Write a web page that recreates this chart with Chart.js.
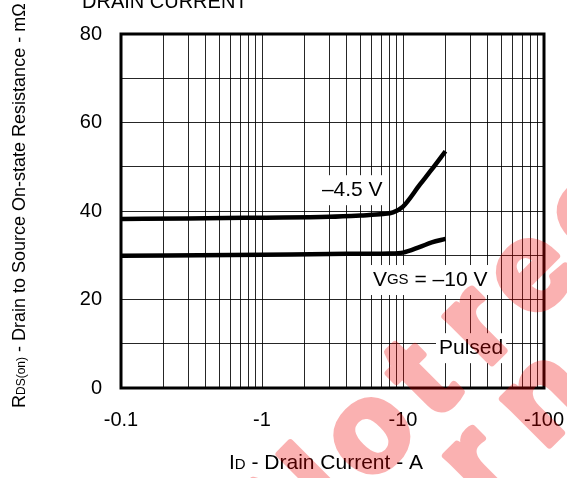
<!DOCTYPE html>
<html>
<head>
<meta charset="utf-8">
<script src="https://cdn.jsdelivr.net/npm/chart.js@4"></script>
<style>
  html, body { margin: 0; padding: 0; background: #fff; }
  #wrap { width: 567px; height: 478px; }
</style>
</head>
<body>
<div id="wrap"><canvas id="rdsChart"></canvas></div>
<script>
// drain current magnitude (A) and on-resistance (mOhm)
var current45 = [0.1, 0.3, 1, 3, 5, 7.2, 8.5, 10, 13.2, 16, 20];
var rds45 = [38.2, 38.3, 38.5, 38.7, 39.0, 39.3, 39.7, 41.0, 46.0, 49.4, 53.5];
var current10 = [0.1, 1, 3, 8, 10, 13.2, 16, 20];
var rds10 = [29.9, 30.1, 30.3, 30.4, 30.6, 31.9, 32.9, 33.7];

var xDecades = [0.1, 1, 10, 100];
var xTickLabels = ["-0.1", "-1", "-10", "-100"];
var yTickValues = [0, 20, 40, 60, 80];
var yTickLabels = ["0", "20", "40", "60", "80"];
var watermarkLines = ["Not recommended", "for new design"];

var FONT = '"Liberation Sans", Arial, sans-serif';

// minor log grid: 1..9 in each decade
var xGrid = [];
for (var d = 0; d < xDecades.length - 1; d++) {
    xGrid.push(xDecades[d]);
    for (var m = 2; m <= 9; m++) xGrid.push(xDecades[d] * m);
}
xGrid.push(xDecades[xDecades.length - 1]);

function pairs(xs, ys) {
    return xs.map(function (x, i) { return { x: x, y: ys[i] }; });
}

// draw text made of normal and small parts on one baseline
function drawParts(ctx, parts, x, y) {
    parts.forEach(function (p) {
        ctx.font = p.size + "px " + FONT;
        ctx.fillText(p.t, x, y);
        x += ctx.measureText(p.t).width;
    });
    return x;
}
function partsWidth(ctx, parts) {
    var w = 0;
    parts.forEach(function (p) {
        ctx.font = p.size + "px " + FONT;
        w += ctx.measureText(p.t).width;
    });
    return w;
}

// watermark letters one by one, wide tracking, tight word gap
function drawSpaced(ctx, text, x, y, track) {
    for (var i = 0; i < text.length; i++) {
        var ch = text[i];
        if (ch === " ") { x += track; continue; }
        ctx.strokeText(ch, x, y);
        ctx.fillText(ch, x, y);
        x += ctx.measureText(ch).width + track;
    }
}

var notes = [
    { x: 2.66, y: 44.7, parts: [{ t: "\u20134.5 V", size: 21 }] },
    { x: 6.12, y: 24.4, parts: [{ t: "V", size: 21 }, { t: "GS", size: 15 }, { t: " = \u201310 V", size: 21 }] },
    { x: 18, y: 9.0, parts: [{ t: "Pulsed", size: 21 }] }
];

var decorPlugin = {
    id: "decor",
    beforeDraw: function (chart) {
        var ctx = chart.ctx;
        ctx.save();
        ctx.fillStyle = "#fff";
        ctx.fillRect(0, 0, chart.width, chart.height);
        ctx.restore();
    },
    afterDatasetsDraw: function (chart) {
        var ctx = chart.ctx, xs = chart.scales.x, ys = chart.scales.y;
        ctx.save();
        ctx.textBaseline = "middle";
        notes.forEach(function (n) {
            var px = xs.getPixelForValue(n.x), py = ys.getPixelForValue(n.y);
            var w = partsWidth(ctx, n.parts);
            ctx.fillStyle = "#fff";
            ctx.fillRect(px - 3, py - 15, w + 6, 30);
            ctx.fillStyle = "#000";
            drawParts(ctx, n.parts, px, py);
        });
        ctx.restore();
    },
    afterDraw: function (chart) {
        var ctx = chart.ctx, a = chart.chartArea;
        ctx.save();
        ctx.strokeStyle = "#000";
        ctx.lineWidth = 3;
        ctx.strokeRect(a.left, a.top, a.right - a.left, a.bottom - a.top);

        ctx.fillStyle = "#000";
        ctx.textBaseline = "alphabetic";
        // x axis title
        drawParts(ctx, [{ t: "I", size: 21 }, { t: "D", size: 15 }, { t: " - Drain Current - A", size: 21 }], 229, 469);
        // cut-off chart title
        drawParts(ctx, [{ t: "DRAIN CURRENT", size: 20 }], 82, 8);
        // y axis title
        ctx.save();
        ctx.translate(25, 408);
        ctx.rotate(-Math.PI / 2);
        drawParts(ctx, [{ t: "R", size: 18 }, { t: "DS(on)", size: 12 }, { t: " - Drain to Source On-state Resistance - m\u03a9", size: 18 }], 0, 0);
        ctx.restore();
        ctx.restore();

        // watermark: drawn solid off screen, then laid over semi-transparent
        var off = document.createElement("canvas");
        off.width = chart.width;
        off.height = chart.height;
        var w = off.getContext("2d");
        w.fillStyle = "rgb(240,0,0)";
        w.strokeStyle = "rgb(240,0,0)";
        w.lineWidth = 7;
        w.lineJoin = "round";
        w.font = "bold 125px " + FONT;
        w.translate(372, 436);
        w.rotate(-Math.PI / 4);
        var track = 16;
        var nW = w.measureText("N").width, oW = w.measureText("o").width;
        drawSpaced(w, watermarkLines[0], -(nW + track + oW / 2), 33, track);
        var foW = w.measureText("f").width + w.measureText("o").width + 2 * track;
        var rW = w.measureText("r").width;
        drawSpaced(w, watermarkLines[1], 54 - foW - rW / 2, 132, track);

        ctx.save();
        ctx.globalAlpha = 0.3;
        ctx.drawImage(off, 0, 0);
        ctx.restore();
    }
};

var ctx1 = document.getElementById("rdsChart").getContext("2d");
var myChart = new Chart(ctx1, {
    type: "line",
    data: {
        datasets: [
            {
                label: "-4.5 V",
                data: pairs(current45, rds45),
                borderColor: "#000",
                borderWidth: 4.5,
                pointRadius: 0,
                cubicInterpolationMode: "monotone",
                fill: false
            },
            {
                label: "-10 V",
                data: pairs(current10, rds10),
                borderColor: "#000",
                borderWidth: 4.5,
                pointRadius: 0,
                cubicInterpolationMode: "monotone",
                fill: false
            }
        ]
    },
    options: {
        responsive: true,
        maintainAspectRatio: false,
        animation: false,
        layout: { padding: { left: 0, top: 34, right: 23, bottom: 0 } },
        plugins: {
            legend: { display: false },
            tooltip: { enabled: false }
        },
        scales: {
            x: {
                type: "logarithmic",
                min: 0.1,
                max: 100,
                afterBuildTicks: function (scale) {
                    scale.ticks = xGrid.map(function (v) { return { value: v }; });
                },
                afterFit: function (scale) {
                    scale.height = 90;
                    scale.paddingLeft = 0;
                    scale.paddingRight = 0;
                },
                ticks: {
                    autoSkip: false,
                    maxRotation: 0,
                    padding: 20,
                    color: "#000",
                    font: { family: FONT, size: 20 },
                    callback: function (value) {
                        var i = xDecades.indexOf(value);
                        return i >= 0 ? xTickLabels[i] : "";
                    }
                },
                grid: {
                    color: "rgba(0,0,0,0.85)",
                    lineWidth: 1,
                    drawTicks: false
                },
                border: { display: false }
            },
            y: {
                min: 0,
                max: 80,
                afterFit: function (scale) { scale.width = 121; },
                ticks: {
                    stepSize: 10,
                    padding: 19,
                    color: "#000",
                    font: { family: FONT, size: 20 },
                    callback: function (value) {
                        var i = yTickValues.indexOf(value);
                        return i >= 0 ? yTickLabels[i] : "";
                    }
                },
                grid: {
                    color: "rgba(0,0,0,0.85)",
                    lineWidth: 1,
                    drawTicks: false
                },
                border: { display: false }
            }
        }
    },
    plugins: [decorPlugin]
});
</script>
</body>
</html>
